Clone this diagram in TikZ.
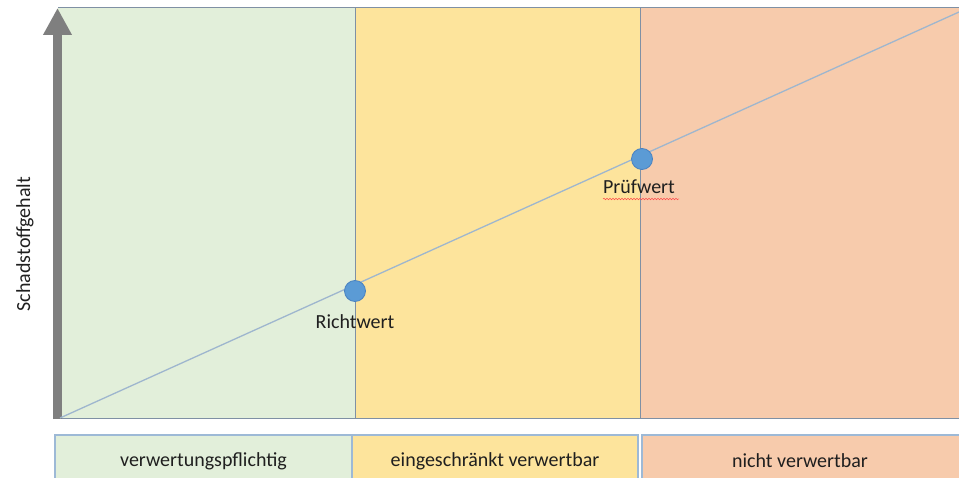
\documentclass[tikz,border=0pt]{standalone}
\usepackage{fontspec}
\setmainfont{Carlito}
\usetikzlibrary{arrows.meta,decorations.pathmorphing}
\definecolor{cgreen}{HTML}{E2EFDA}
\definecolor{cyellow}{HTML}{FDE49C}
\definecolor{csalmon}{HTML}{F7CBAC}
\definecolor{cborder}{HTML}{7F90A4}
\definecolor{cbox}{HTML}{9DB9D6}
\definecolor{cline}{HTML}{9EB6CE}
\definecolor{cdot}{HTML}{5B9BD5}
\definecolor{cdotb}{HTML}{4A82C0}
\definecolor{caxis}{HTML}{7F7F7F}
\definecolor{ctext}{HTML}{1F1F1F}
\begin{document}
\begin{tikzpicture}[x=1pt,y=-1pt,
  zone/.style={draw=cborder, line width=1pt},
  catbox/.style={draw=cbox, line width=1.2pt},
  lbl/.style={text=ctext, font=\fontsize{20}{24}\selectfont},
  dot/.style={circle, fill=cdot, draw=cdotb, line width=0.8pt, minimum size=21pt, inner sep=0pt}]
\useasboundingbox (0,0) rectangle (959,478);
% zones
\fill[cgreen] (58,8) rectangle (355,418);
\fill[cyellow] (355,8) rectangle (640,418);
\fill[csalmon] (640,8) rectangle (959,418);
\draw[zone] (58,8) -- (959,8);
\draw[zone] (58,418) -- (959,418);
\draw[zone] (355,8) -- (355,418);
\draw[zone] (640,8) -- (640,418);
% category boxes
\draw[catbox, fill=cgreen] (55,435) rectangle (352,490);
\draw[catbox, fill=cyellow] (352,435) rectangle (638,490);
\draw[catbox, fill=csalmon] (642,435) rectangle (965,490);
\node[lbl] (c1) at (203.5,461) {verwertungspflichtig};
\node[lbl] (c2) at (495,461) {eingeschränkt verwertbar};
\node[lbl] (c3) at (800,461) {nicht verwertbar};
% axis arrow
\coordinate (a0) at (57.5,419);
\coordinate (a1) at (57.5,8);
\draw[caxis, line width=9pt, -{Triangle[length=27pt,width=27pt]}] (a0) -- (a1);
\node[lbl, rotate=90] (ylab) at (25,244) {Schadstoffgehalt};
% diagonal
\coordinate (d0) at (60,418);
\coordinate (d1) at (959,12);
\draw[cline, line width=1.3pt] (d0) -- (d1);
\node[dot] (r) at (355,291) {};
\node[dot] (p) at (642,159) {};
\node[lbl] (rl) at (355,322) {Richtwert};
\node[lbl] (pl) at (639,187) {Prüfwert};
\draw[red!70, line width=0.5pt, decorate, decoration={snake, amplitude=0.8pt, segment length=3pt}] (603,199) -- (679,199);
\end{tikzpicture}
\end{document}
